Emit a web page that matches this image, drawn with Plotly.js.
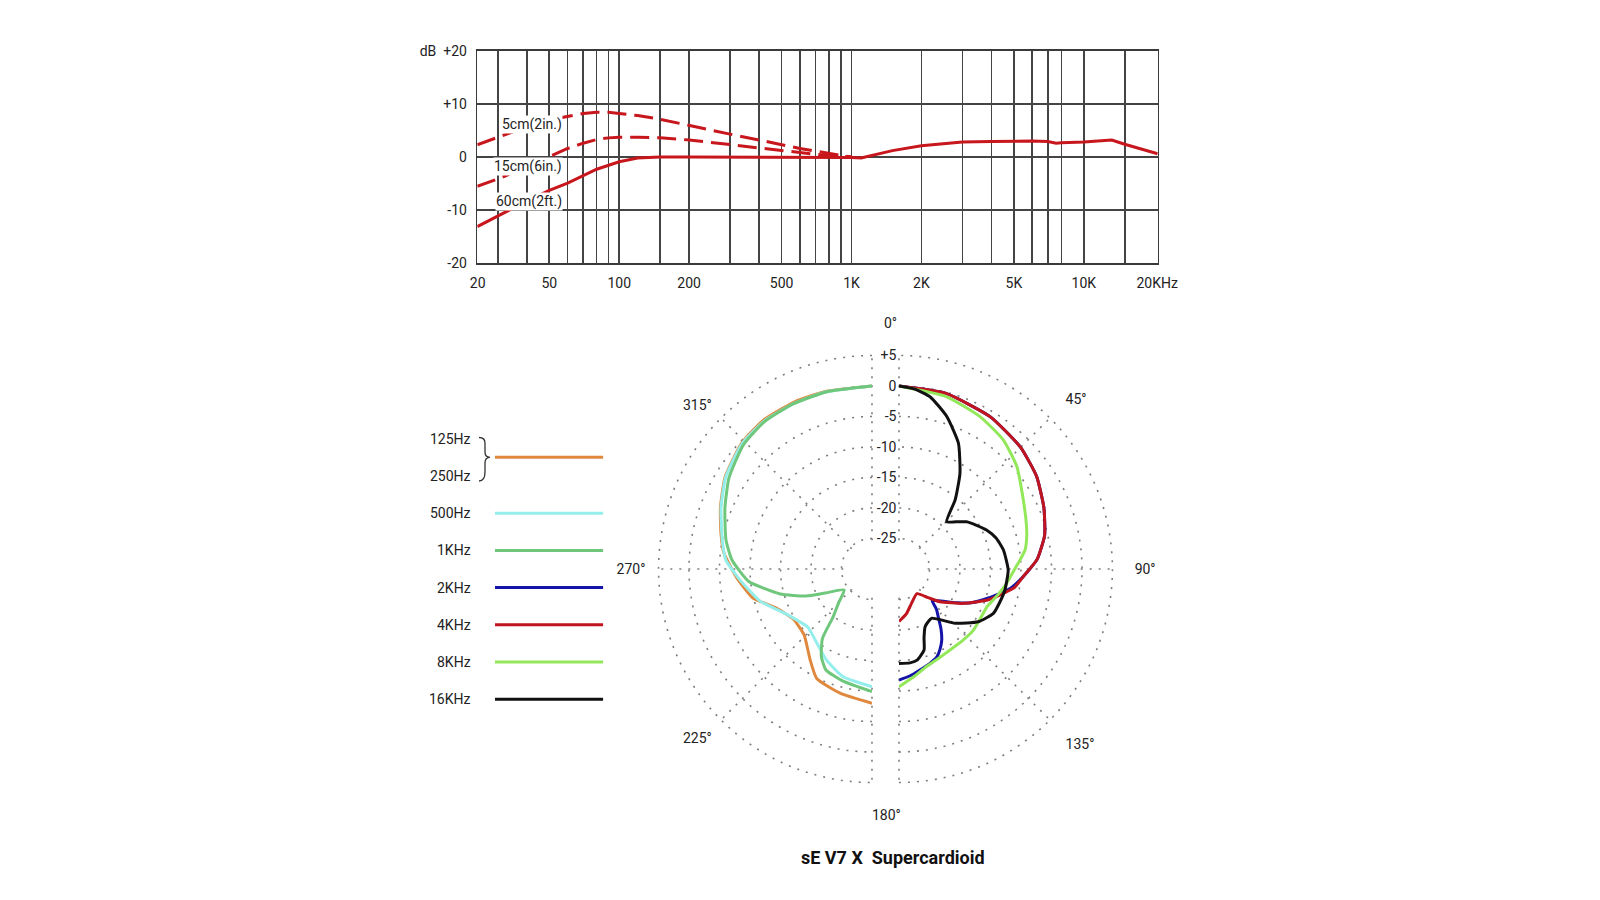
<!DOCTYPE html>
<html><head><meta charset="utf-8">
<script src="https://cdn.plot.ly/plotly-3.0.1.min.js"></script>
<style>html,body{margin:0;padding:0;background:#fff}#chart{width:1600px;height:900px}</style>
</head><body><div id="chart"></div>
<script>
// ---------- Frequency response (top) ----------
const freqProx = [24.5, 31, 40, 50, 60, 70, 80, 90, 100, 120, 150, 200, 300, 400, 500, 600, 700, 800, 900, 1000];
const db5cm  = [2.3, 4.0, 5.7, 7.0, 7.7, 8.2, 8.4, 8.4, 8.2, 7.8, 7.1, 5.9, 4.3, 3.2, 2.3, 1.6, 1.1, 0.6, 0.3, 0];
const db15cm = [-5.5, -3.9, -1.8, 0, 1.6, 2.6, 3.3, 3.6, 3.7, 3.7, 3.6, 3.2, 2.3, 1.7, 1.2, 0.8, 0.5, 0.3, 0.1, 0];
const freqMain = [24.5, 31, 40, 50, 60, 80, 100, 120, 150, 200, 300, 500, 700, 1000, 1100, 1200, 1500, 2000, 3000, 4000, 5000, 6000, 7000, 7600, 8000, 10000, 13200, 14000, 15000, 20800];
const db60cm = [-13.1, -10.8, -8.3, -6.3, -4.9, -2.3, -0.9, -0.2, 0, 0, 0, 0, 0, -0.1, -0.2, 0.2, 1.2, 2.1, 2.8, 2.9, 3.0, 3.0, 2.9, 2.6, 2.7, 2.8, 3.2, 2.9, 2.4, 0.6];
const distLabels = ['5cm(2in.)', '15cm(6in.)', '60cm(2ft.)'];
const gridFreqs = [30, 40, 50, 60, 70, 80, 90, 100, 150, 200, 300, 400, 500, 600, 700, 800, 900, 1000, 2000, 3000, 4000, 5000, 6000, 7000, 8000, 10000, 15000];
const labelFreqs = [24.6, 50, 100, 200, 500, 1000, 2000, 5000, 10000, 20700];
const labelFreqText = ['20', '50', '100', '200', '500', '1K', '2K', '5K', '10K', '20KHz'];
const dbTicks = [-20, -10, 0, 10, 20];
const dbTickText = ['-20', '-10', '0', '+10', 'dB  +20'];

// ---------- Polar pattern (bottom) ----------
// right half: high frequencies
const th2k  = [0, 15, 31, 45, 56, 67, 77, 86, 93.5, 100, 108, 115, 120, 126, 133.6, 137, 140.5, 145, 149, 153, 156.7, 162, 168.3, 174, 180];
const db2k  = [0, -0.2, -0.9, -1.8, -2.8, -4.2, -5.5, -7.3, -9.6, -11.5, -14.6, -16.9, -18.9, -21.0, -22.5, -21.0, -19.9, -18.0, -16.4, -15.2, -14.3, -13.7, -13.1, -12.4, -11.8];
const th4k  = [0, 15, 31, 45, 56, 67, 77, 86, 93.5, 99, 102, 109, 118, 128.6, 134.5, 144, 160, 171, 180];
const db4k  = [0, -0.2, -0.9, -1.8, -2.8, -4.2, -5.5, -7.3, -9.6, -10.8, -12, -14.5, -18, -21.4, -23.3, -25, -24, -22.5, -21.4];
const th8k  = [0, 15.5, 28, 39, 49, 61, 70, 75.8, 81.4, 85.7, 91, 97.6, 105, 113.3, 121, 129.4, 138, 147.8, 156, 164.2, 172, 180];
const db8k  = [0, -0.7, -1.7, -2.8, -4.4, -6.7, -7.8, -8.4, -9.1, -10.1, -11.2, -12.2, -13.3, -14.3, -14.4, -14.2, -14.3, -14.3, -14.0, -13.4, -12.2, -10.7];
const th16k = [0, 5, 10.2, 17.4, 25.3, 32.5, 39.1, 45.2, 50.3, 55, 60.6, 66, 72.3, 79.7, 90.5, 101.2, 108.1, 115.2, 123.7, 134, 146.2, 151.3, 155.7, 160, 162.8, 168.5, 173.3, 180];
const db16k = [0, -0.4, -1.3, -3.8, -7.2, -11.4, -15.4, -19, -17.9, -16.5, -15.4, -14.3, -13.3, -12.6, -12.1, -12.3, -12.6, -12.9, -14.4, -17.2, -20.3, -20.1, -19.6, -18, -16.1, -14.8, -14.5, -14.5];
// left half: low frequencies
const th250 = [180, 194.4, 206.8, 214.3, 225.9, 237.6, 248.4, 256.3, 266.2, 276.1, 283, 292, 302, 314, 324, 335, 345, 360];
const db250 = [-8, -9, -9.9, -12, -14.5, -14.7, -12.9, -9.9, -7.8, -5.6, -4.6, -3.2, -1.6, -0.3, 0.2, 0.2, 0.1, 0];
const th500 = [180, 195, 206.5, 215.4, 227.8, 241.3, 254, 265.2, 273.5, 281, 292, 302, 314, 324, 335, 345, 360];
const db500 = [-10.7, -11.7, -13.3, -14.7, -15.8, -14.3, -10.9, -8.3, -6, -5.0, -3.3, -1.7, -0.4, 0, 0, 0, 0];
const th1k  = [180, 194.5, 204.5, 210, 215.5, 219.1, 224.6, 233.1, 243, 247.8, 254.8, 264.2, 273.7, 281.2, 292.5, 302.5, 313.9, 323.8, 334.3, 345.7, 360];
const db1k  = [-9.9, -11, -11.8, -13.4, -16, -19.9, -22.2, -24.3, -21.3, -18.3, -14.4, -9.7, -7, -5.6, -3.9, -2.2, -0.7, -0.1, 0, 0, 0];
const ringVals = [-25, -20, -15, -10, -5, 0, 5];
const ringText = ['-25', '-20', '-15', '-10', '-5', '0', '+5'];
const rightAngles = [0.01, 45, 90, 135, 179.99];
const rightAngleText = ['', '45°', '90°', '135°', ''];
const leftAngles = [-179.99, -135, -90, -45, -0.01];
const leftAngleText = ['', '225°', '270°', '315°', ''];

// ---------- Legend ----------
const legendNames = ['125Hz|250Hz', '500Hz', '1KHz', '2KHz', '4KHz', '8KHz', '16KHz'];
const legendColors = ['#e0893e', '#93eeec', '#6fc77c', '#1414a8', '#c0141e', '#93e85a', '#111111'];
const title = 'sE V7 X\u00a0\u00a0Supercardioid';

// ---------- layout helpers ----------
const W = 1600, H = 900;
const px2x = p => p / W;
const py2y = p => 1 - p / H;
const FONT = 'Roboto, "Open Sans", sans-serif';
const TXT = '#222';
const RED = '#c8161d';
const GRIDDOT = '#7d7d7d';

// polar geometry (pixels): ring spacing 6.1 px per dB, -25 dB at 30.5 px, +5 dB at 213.5 px
const PXDB = 6.1, RMIN = -25.3, RMAX = 5.3;
const OUTER = 213.5 + (RMAX - 5) * PXDB;
const HOLE = (30.5 - (-25 - RMIN) * PXDB) / OUTER;
const CY = 569, CXL = 872, CXR = 899;

const traces = [];
traces.push({x: freqProx, y: db5cm, mode: 'lines', line: {color: RED, width: 3, dash: '19px,8px'}, xaxis: 'x', yaxis: 'y'});
traces.push({x: freqProx, y: db15cm, mode: 'lines', line: {color: RED, width: 3, dash: '19px,8px'}, xaxis: 'x', yaxis: 'y'});
traces.push({x: freqMain, y: db60cm, mode: 'lines', line: {color: RED, width: 3}, xaxis: 'x', yaxis: 'y'});

const col = {};
legendNames.forEach((n, i) => col[n] = legendColors[i]);
function pol(th, r, color, sub) {
  return {type: 'scatterpolar', theta: th, r: r, mode: 'lines', line: {color: color, width: 3, shape: 'spline', smoothing: 0.5}, subplot: sub};
}
traces.push(pol(th250, db250, col['125Hz|250Hz'], 'polar'));
traces.push(pol(th500, db500, col['500Hz'], 'polar'));
traces.push(pol(th1k, db1k, col['1KHz'], 'polar'));
traces.push(pol(th2k, db2k, col['2KHz'], 'polar2'));
traces.push(pol(th4k, db4k, col['4KHz'], 'polar2'));
traces.push(pol(th8k, db8k, col['8KHz'], 'polar2'));
traces.push(pol(th16k, db16k, col['16KHz'], 'polar2'));

const rowY = i => (i === 0 ? 0 : -(i + 0.5));
legendNames.forEach((n, i) => {
  traces.push({x: [0, 1], y: [rowY(i), rowY(i)], mode: 'lines', line: {color: legendColors[i], width: 3}, xaxis: 'x3', yaxis: 'y3'});
});

const xt = gridFreqs.map(f => ({v: f, t: ''}));
labelFreqs.forEach((f, i) => {
  const e = xt.find(o => o.v === f);
  if (e) e.t = labelFreqText[i]; else xt.push({v: f, t: labelFreqText[i]});
});
xt.sort((a, b) => a.v - b.v);

const annotations = [];
const distPos = [[42, 6.2], [40.4, -1.75], [41, -8.3]];
distLabels.forEach((t, i) => annotations.push({
  text: t, xref: 'x', yref: 'y', x: Math.log10(distPos[i][0]), y: distPos[i][1], xanchor: 'center', yanchor: 'middle',
  bgcolor: '#fff', borderpad: 0, showarrow: false, font: {family: FONT, size: 14, color: TXT}
}));
legendNames.forEach((n, i) => {
  const parts = n.split('|');
  parts.forEach((p, j) => {
    const off = parts.length === 1 ? 0 : (j === 0 ? 0.49 : -0.49);
    annotations.push({text: p, xref: 'x3', yref: 'y3', x: 0, y: rowY(i) + off, xanchor: 'right', yanchor: 'middle', xshift: -22,
      showarrow: false, font: {family: FONT, size: 14, color: TXT}});
  });
});
annotations.push({text: '0°', xref: 'paper', yref: 'paper', x: px2x(890), y: py2y(323), xanchor: 'center', yanchor: 'middle', showarrow: false, font: {family: FONT, size: 14, color: TXT}});
annotations.push({text: '180°', xref: 'paper', yref: 'paper', x: px2x(887), y: py2y(815), xanchor: 'center', yanchor: 'middle', showarrow: false, font: {family: FONT, size: 14, color: TXT}});
annotations.push({text: '<b>' + title + '</b>', xref: 'paper', yref: 'paper', x: px2x(893), y: py2y(857), xanchor: 'center', yanchor: 'middle', showarrow: false, font: {family: FONT, size: 18, color: '#111'}});

const bp = [[479, 437.5], [485, 437.5], [485, 443], [485, 452], [485, 457.3], [490, 457.3], [485, 457.3], [485, 463], [485, 472], [485, 481], [479, 481]];
const P = p => px2x(p[0]) + ' ' + py2y(p[1]);
const bracePath = 'M ' + P(bp[0]) + ' Q ' + P(bp[1]) + ' ' + P(bp[2]) + ' L ' + P(bp[3]) + ' Q ' + P(bp[4]) + ' ' + P(bp[5]) +
  ' Q ' + P(bp[6]) + ' ' + P(bp[7]) + ' L ' + P(bp[8]) + ' Q ' + P(bp[9]) + ' ' + P(bp[10]);

const gridStyle = {gridcolor: GRIDDOT, griddash: '2px,7px', gridwidth: 1.6};
function polarLayout(domX, sector, angles, angleText, showR, tlen) {
  return {
    domain: {x: domX, y: [py2y(CY + OUTER), py2y(CY - OUTER)]},
    sector: sector, hole: HOLE, bgcolor: 'rgba(0,0,0,0)',
    radialaxis: Object.assign({range: [RMIN, RMAX], tickvals: ringVals, ticktext: ringText, showline: false, ticks: '',
      angle: 90, side: 'counterclockwise', tickangle: 90, showticklabels: showR, tickfont: {family: FONT, size: 14, color: TXT}}, gridStyle),
    angularaxis: Object.assign({rotation: 90, direction: 'clockwise', tickvals: angles, ticktext: angleText, showline: false,
      ticks: 'outside', ticklen: tlen, tickcolor: 'rgba(0,0,0,0)', tickfont: {family: FONT, size: 14, color: TXT}}, gridStyle)
  };
}

const layout = {
  width: W, height: H, margin: {l: 0, r: 0, t: 0, b: 0}, showlegend: false, hovermode: false,
  paper_bgcolor: '#fff', plot_bgcolor: '#fff',
  xaxis: {type: 'log', domain: [px2x(477.3), px2x(1157.7)], range: [Math.log10(24.5), Math.log10(20800)],
    tickvals: xt.map(o => o.v), ticktext: xt.map(o => o.t), showgrid: true, gridcolor: '#444', gridwidth: 1.6,
    showline: true, mirror: true, linecolor: '#3a3a3a', linewidth: 1.6, ticks: 'outside', ticklen: 6, tickcolor: 'rgba(0,0,0,0)',
    tickfont: {family: FONT, size: 14, color: TXT}, zeroline: false, fixedrange: true},
  yaxis: {domain: [py2y(263.3), py2y(50.7)], range: [-20, 20], tickvals: dbTicks, ticktext: dbTickText,
    showgrid: true, gridcolor: '#444', gridwidth: 1.6, showline: true, mirror: true, linecolor: '#3a3a3a', linewidth: 1.6,
    ticks: 'outside', ticklen: 6, tickcolor: 'rgba(0,0,0,0)', zeroline: false,
    tickfont: {family: FONT, size: 14, color: TXT}, fixedrange: true},
  xaxis3: {domain: [px2x(495), px2x(603.3)], range: [0, 1], visible: false, fixedrange: true},
  yaxis3: {domain: [py2y(717.9), py2y(438.7)], range: [-7, 0.5], visible: false, fixedrange: true},
  polar: polarLayout([px2x(CXL - OUTER), px2x(CXL)], [90, 270], leftAngles, leftAngleText, false, 8),
  polar2: polarLayout([px2x(CXR), px2x(CXR + OUTER)], [-90, 90], rightAngles, rightAngleText, true, 17),
  annotations: annotations,
  shapes: [{type: 'path', xref: 'paper', yref: 'paper', path: bracePath, line: {color: '#333', width: 1.3}}]
};

Plotly.newPlot('chart', traces, layout, {staticPlot: true, displayModeBar: false});
</script>
</body></html>
